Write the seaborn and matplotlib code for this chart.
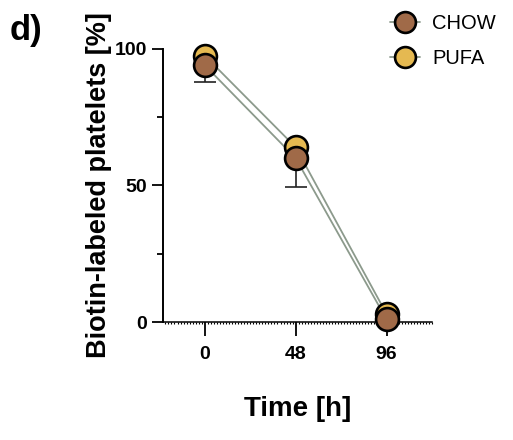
import pandas as pd
import matplotlib.pyplot as plt
import seaborn as sns
from matplotlib.lines import Line2D
from matplotlib.ticker import MultipleLocator

# data
time_h = [0, 48, 96]
groups = ['CHOW', 'PUFA']
chow_mean = [94, 60, 1]
chow_sd = [6, 10.5, 0]
pufa_mean = [97.5, 64, 3]
pufa_sd = [0, 0, 0]
colors = {'CHOW': '#a06a48', 'PUFA': '#e5b951'}

df = pd.DataFrame({
    'time': time_h * 2,
    'group': ['CHOW'] * 3 + ['PUFA'] * 3,
    'value': chow_mean + pufa_mean,
    'sd': chow_sd + pufa_sd,
})

sns.set_style('ticks')
plt.rcParams['font.family'] = ['Liberation Sans', 'DejaVu Sans']
plt.rcParams['text.color'] = 'black'
plt.rcParams['xtick.color'] = 'black'
plt.rcParams['ytick.color'] = 'black'
plt.rcParams['axes.labelcolor'] = 'black'
plt.rcParams['axes.edgecolor'] = 'black'

fig = plt.figure(figsize=(5.13, 4.4), dpi=100)
ax = fig.add_axes([0.318, 0.268, 0.524, 0.621])

# lines and error bars under the markers
for g in ['PUFA', 'CHOW']:
    sub = df[df['group'] == g]
    sns.lineplot(data=sub, x='time', y='value', color='#8c9a8c', lw=1.3,
                 ax=ax, zorder=2, clip_on=False, legend=False)
    ax.errorbar(sub['time'], sub['value'], yerr=[sub['sd'], [0] * 3],
                fmt='none', ecolor='#222222', elinewidth=1.2, capsize=8,
                capthick=1.2, zorder=3, clip_on=False)

for g in ['PUFA', 'CHOW']:
    sub = df[df['group'] == g]
    sns.scatterplot(data=sub, x='time', y='value', color=colors[g], s=270,
                    edgecolor='black', linewidth=1.9, ax=ax, zorder=4,
                    clip_on=False, legend=False)

ax.set_xlim(-22, 120)
ax.set_ylim(0, 100)
ax.set_xticks(time_h)
ax.set_xticklabels([str(t) for t in time_h], fontweight='bold', fontsize=14)
ax.xaxis.set_minor_locator(MultipleLocator(1.6))
ax.set_yticks([0, 50, 100])
ax.set_yticklabels(['0', '50', '100'], fontweight='bold', fontsize=14)
ax.set_yticks([25, 75], minor=True)
ax.tick_params(axis='y', which='major', length=8, width=1.3)
ax.tick_params(axis='y', which='minor', length=4, width=1.3)
ax.tick_params(axis='x', which='major', length=10, width=1.3, pad=7)
ax.tick_params(axis='x', which='minor', length=1.5, width=0.8)

sns.despine(ax=ax)
ax.spines['left'].set_linewidth(1.4)
ax.spines['bottom'].set_linewidth(1.1)

ax.set_xlabel('Time [h]', fontweight='bold', fontsize=20, labelpad=24)
ax.set_ylabel('Biotin-labeled platelets [%]', fontweight='bold', fontsize=19.5,
              labelpad=2)

fig.text(0.018, 0.91, 'd)', fontsize=25, fontweight='bold')

handles = [Line2D([0], [0], color='#8c9a8c', lw=1.3, marker='o', markersize=15,
                  markerfacecolor=colors[g], markeredgecolor='black',
                  markeredgewidth=1.9) for g in groups]
leg = fig.legend(handles, groups, loc='upper left', bbox_to_anchor=(0.725, 1.01),
                 frameon=False, fontsize=14.5, handlelength=1.5,
                 labelspacing=0.8, handletextpad=0.6)

fig.savefig('out.png', dpi=100)
